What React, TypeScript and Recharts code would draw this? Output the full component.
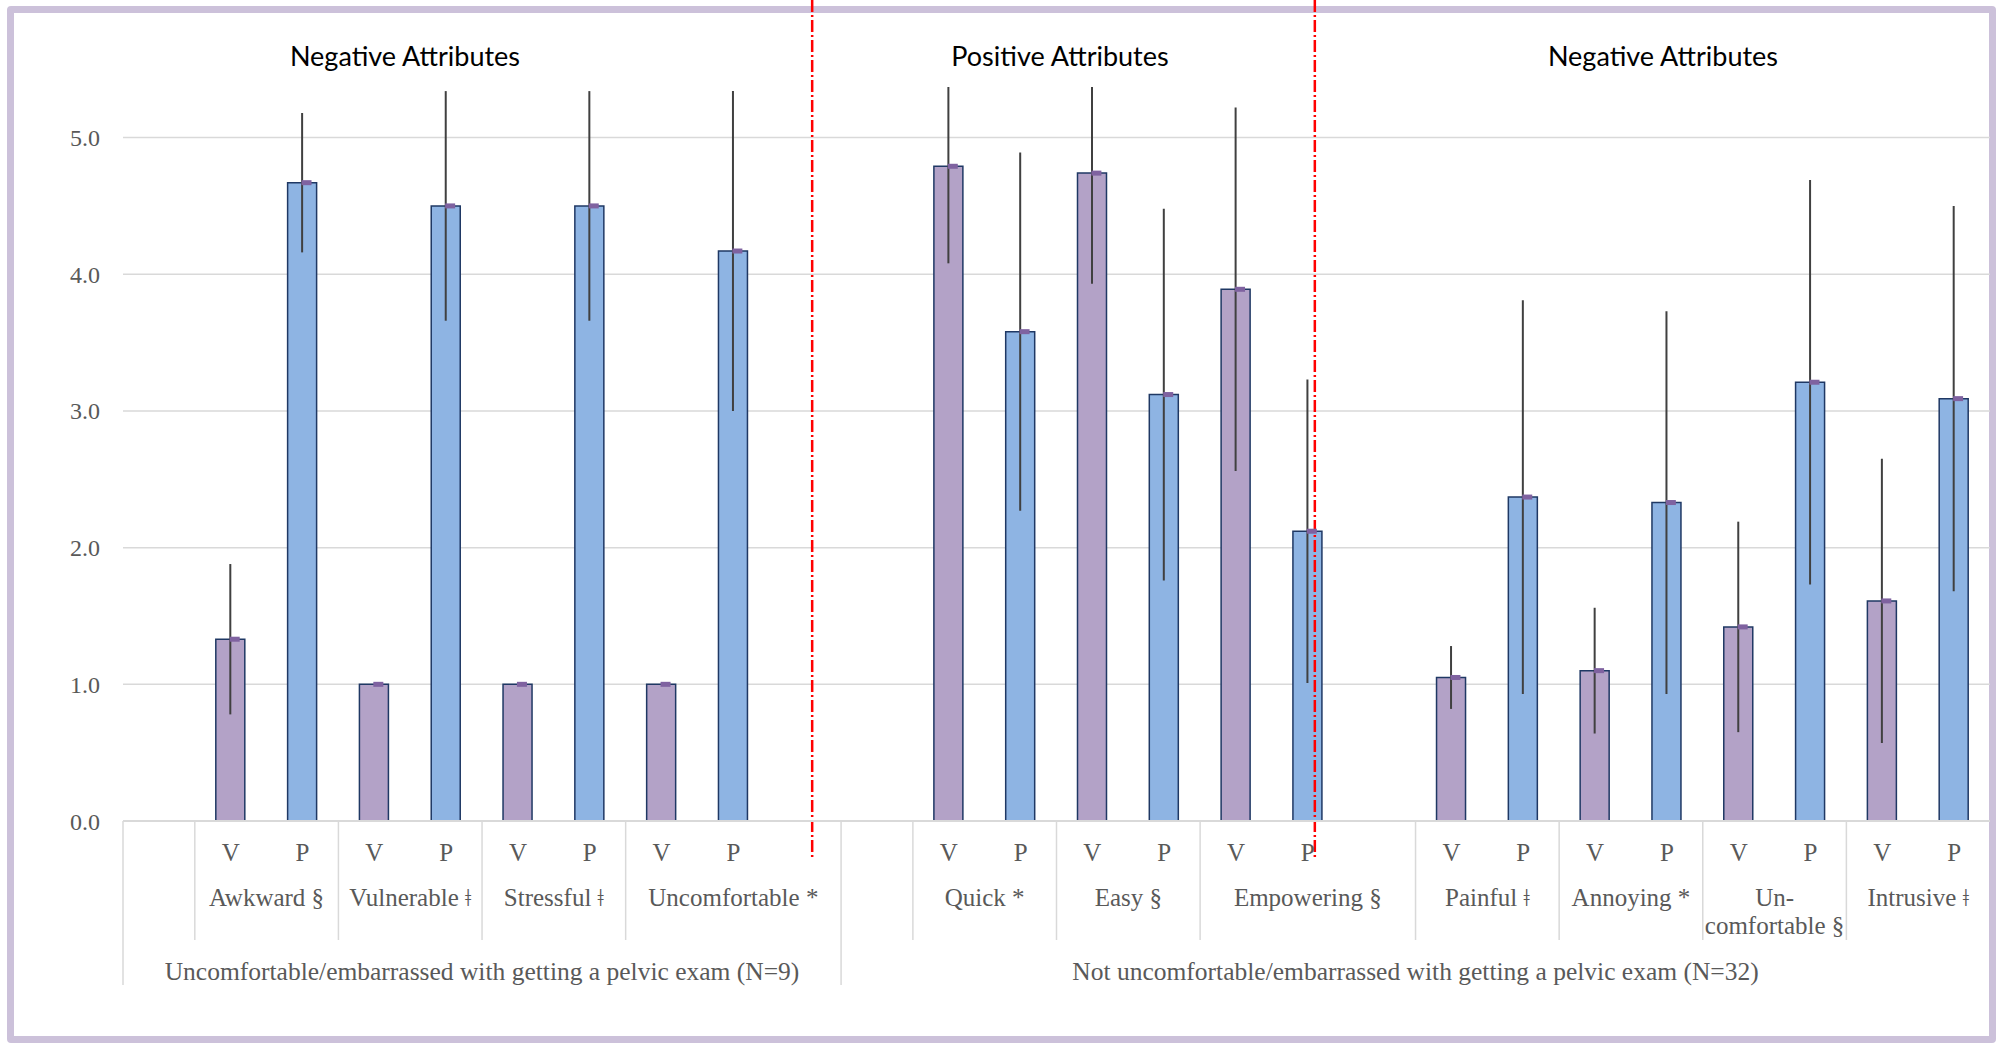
import React from 'react';
import {
  ComposedChart, Bar, Line, XAxis, YAxis, CartesianGrid, ErrorBar, Cell, ReferenceLine,
} from 'recharts';

// ─── Data ──────────────────────────────────────────────────────────────────
const groupLabels = [
  'Uncomfortable/embarrassed with getting a pelvic exam (N=9)',
  'Not uncomfortable/embarrassed with getting a pelvic exam (N=32)',
];

const attributes = [
  'Awkward §', 'Vulnerable ǂ', 'Stressful ǂ', 'Uncomfortable *',
  'Quick *', 'Easy §', 'Empowering §',
  'Painful ǂ', 'Annoying *', 'Un-\ncomfortable §', 'Intrusive ǂ',
];
const attributeGroup = [0, 0, 0, 0, 1, 1, 1, 1, 1, 1, 1];
// category slots each attribute takes on the axis (V, P and any blank after)
const attributeSlots = [2, 2, 2, 3, 2, 2, 3, 2, 2, 2, 2];

const vMeans = [1.33, 1.0, 1.0, 1.0, 4.79, 4.74, 3.89, 1.05, 1.1, 1.42, 1.61];
const vSD = [0.55, 0, 0, 0, 0.71, 0.81, 1.33, 0.23, 0.46, 0.77, 1.04];
const pMeans = [4.67, 4.5, 4.5, 4.17, 3.58, 3.12, 2.12, 2.37, 2.33, 3.21, 3.09];
const pSD = [0.51, 0.84, 0.84, 1.17, 1.31, 1.36, 1.11, 1.44, 1.4, 1.48, 1.41];

const panelTitles = ['Negative Attributes', 'Positive Attributes', 'Negative Attributes'];
const yTicks = [0, 1, 2, 3, 4, 5];
const Y_MAX = 5.37;
const dividerAt = ['a3-x2', 'a6-P'];

// ─── Styles ────────────────────────────────────────────────────────────────
const W = 2000;
const H = 1044;
const V_COLOR = '#b3a2c7';
const P_COLOR = '#8eb4e3';
const OUTLINE = '#1f3864';
const GRID = '#d9d9d9';
const TEXT = '#595959';
const SERIF = '"Liberation Serif", "Times New Roman", serif';
const SANS = 'Lato, "Open Sans", sans-serif';
const AX_FONT = 25;

// ─── Rows in axis order ────────────────────────────────────────────────────
type Row = {
  id: string; vp: string; mean: number | null; sd: number | null;
  attr: number; spanStart: boolean; span: number;
  group: number; groupStart: boolean; groupSpan: number;
};

const rows: Row[] = [];
groupLabels.forEach((_, g) => {
  const members = attributes.map((_, i) => i).filter((i) => attributeGroup[i] === g);
  const groupSpan = 1 + members.reduce((s, i) => s + attributeSlots[i], 0);
  const base = { group: g, groupSpan };
  rows.push({ ...base, id: `g${g}-lead`, vp: '', mean: null, sd: null, attr: -1, spanStart: true, span: 1, groupStart: true });
  members.forEach((i) => {
    const span = attributeSlots[i];
    rows.push({ ...base, id: `a${i}-V`, vp: 'V', mean: vMeans[i], sd: vSD[i], attr: i, spanStart: true, span, groupStart: false });
    rows.push({ ...base, id: `a${i}-P`, vp: 'P', mean: pMeans[i], sd: pSD[i], attr: i, spanStart: false, span, groupStart: false });
    for (let k = 2; k < span; k++) {
      rows.push({ ...base, id: `a${i}-x${k}`, vp: '', mean: null, sd: null, attr: i, spanStart: false, span, groupStart: false });
    }
  });
});

// error whiskers are cut off at the top of the value axis, as in the source
const errorRange = (r: Row) =>
  r.sd == null || r.mean == null ? null : [r.sd, Math.max(0, Math.min(r.sd, Y_MAX - r.mean))];

// ─── Multi-level category tick ─────────────────────────────────────────────
const CategoryTick = (props: any) => {
  const { x, y, payload } = props;
  const row = rows[payload.index];
  if (!row) return null;
  const slot = payload.offset ? payload.offset * 2 : props.width / props.visibleTicksCount;
  const left = x - slot / 2;
  const txt = { fill: TEXT, fontSize: AX_FONT, fontFamily: SERIF, textAnchor: 'middle' as const };
  const attrLines = row.attr >= 0 ? attributes[row.attr].split('\n') : [];
  return (
    <g>
      {row.vp && <text {...txt} x={x} y={y + 31} dy="0.35em">{row.vp}</text>}
      {row.spanStart && (
        <line x1={left} x2={left} y1={y} y2={y + (row.groupStart ? 164 : 119)} stroke={GRID} strokeWidth={1.5} />
      )}
      {row.spanStart && attrLines.map((t, k) => (
        <text key={k} {...txt} x={left + (row.span * slot) / 2} y={y + 76 + k * 28} dy="0.35em">{t}</text>
      ))}
      {row.groupStart && (
        <text {...txt} fontSize={25.5} x={left + (row.groupSpan * slot) / 2} y={y + 150} dy="0.35em">
          {groupLabels[row.group]}
        </text>
      )}
    </g>
  );
};

const MeanMarker = (p: any) => {
  if (p.value == null || p.cy == null || Number.isNaN(p.cy)) return <g key={p.index} />;
  return <rect key={p.index} x={p.cx - 1} y={p.cy - 2.5} width={10} height={5} fill="#7f62a0" />;
};

const RedDivider = (p: any) => {
  const bottom = Math.max(p.y1, p.y2);
  return (
    <line
      x1={p.x1 + 7} x2={p.x1 + 7} y1={0} y2={bottom + 37}
      stroke="#ff0000" strokeWidth={2.5} strokeDasharray="12 3 2 3"
    />
  );
};

const titleX = [405, 1060, 1663];

export default function App() {
  return (
    <div style={{ position: 'absolute', left: 0, top: 0, width: W, height: H, background: '#fff' }}>
      <div
        style={{
          position: 'absolute', left: 7, top: 6, width: 1989, height: 1037,
          border: '7px solid #ccc1da', boxSizing: 'border-box', borderRadius: 4,
        }}
      />
      <svg width={W} height={H} style={{ position: 'absolute', left: 0, top: 0 }}>
        {panelTitles.map((t, i) => (
          <text key={i} x={titleX[i]} y={57} dy="0.35em" textAnchor="middle" fontSize={27} fontFamily={SANS} fill="#000">
            {t}
          </text>
        ))}
      </svg>
      <div style={{ position: 'absolute', left: 0, top: 0 }}>
        <ComposedChart
          width={W}
          height={H}
          data={rows}
          margin={{ top: 87, right: 10, bottom: 23, left: 0 }}
        >
          <CartesianGrid vertical={false} horizontalValues={yTicks} stroke={GRID} strokeWidth={1.5} />
          <XAxis
            dataKey="id"
            type="category"
            interval={0}
            height={200}
            tickSize={0}
            tickMargin={0}
            tickLine={false}
            axisLine={{ stroke: GRID, strokeWidth: 2 }}
            tick={<CategoryTick />}
          />
          <YAxis
            width={123}
            domain={[0, Y_MAX]}
            ticks={yTicks}
            allowDataOverflow
            axisLine={false}
            tickLine={false}
            tickSize={0}
            tickMargin={23}
            tickFormatter={(v: number) => v.toFixed(1)}
            tick={{ fill: TEXT, fontSize: 24, fontFamily: SERIF }}
          />
          <Bar dataKey="mean" barSize={29} stroke={OUTLINE} strokeWidth={1.5} isAnimationActive={false}>
            {rows.map((r) => (
              <Cell key={r.id} fill={r.vp === 'V' ? V_COLOR : P_COLOR} />
            ))}
            <ErrorBar dataKey={errorRange} width={0} stroke="#404040" strokeWidth={2} direction="y" />
          </Bar>
          <Line
            dataKey="mean"
            stroke="none"
            dot={MeanMarker}
            activeDot={false}
            legendType="none"
            isAnimationActive={false}
          />
          {dividerAt.map((id) => (
            <ReferenceLine key={id} x={id} ifOverflow="visible" shape={RedDivider} />
          ))}
        </ComposedChart>
      </div>
    </div>
  );
}
